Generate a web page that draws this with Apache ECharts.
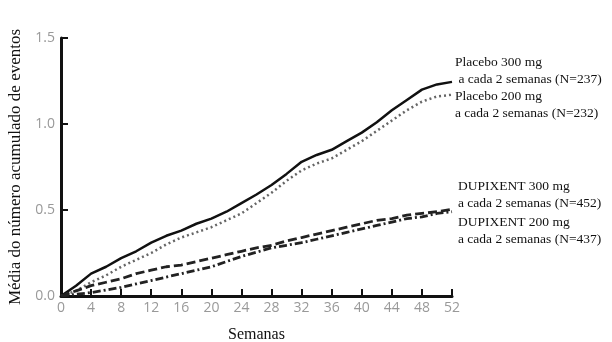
<!DOCTYPE html>
<html><head><meta charset="utf-8">
<script src="https://cdn.jsdelivr.net/npm/echarts@6/dist/echarts.min.js"></script>
<style>html,body{margin:0;padding:0;background:#fff}#c{width:612px;height:342px}</style>
</head><body><div id="c"></div>
<script>
const weeks = [0,2,4,6,8,10,12,14,16,18,20,22,24,26,28,30,32,34,36,38,40,42,44,46,48,50,52];
const placebo300 = [0,0.06,0.13,0.17,0.22,0.26,0.31,0.35,0.38,0.42,0.45,0.49,0.54,0.59,0.645,0.71,0.78,0.82,0.85,0.90,0.95,1.01,1.08,1.14,1.20,1.23,1.245];
const placebo200 = [0,0.03,0.08,0.12,0.17,0.21,0.25,0.30,0.34,0.37,0.40,0.44,0.48,0.54,0.60,0.67,0.73,0.77,0.80,0.85,0.90,0.96,1.02,1.08,1.13,1.16,1.17];
const dupi300 = [0,0.03,0.06,0.08,0.10,0.13,0.15,0.17,0.18,0.20,0.22,0.24,0.26,0.28,0.295,0.32,0.34,0.36,0.38,0.40,0.42,0.44,0.45,0.47,0.48,0.49,0.505];
const dupi200 = [0,0.01,0.02,0.035,0.05,0.07,0.09,0.11,0.13,0.15,0.17,0.20,0.23,0.255,0.28,0.295,0.31,0.33,0.35,0.37,0.39,0.41,0.43,0.45,0.46,0.48,0.49];
const yTicks = [0, 0.5, 1.0, 1.5];
const xTicks = [0,4,8,12,16,20,24,28,32,36,40,44,48,52];
const labelLines = [
  ["Placebo 300 mg", " a cada 2 semanas (N=237)"],
  ["Placebo 200 mg", "a cada 2 semanas (N=232)"],
  ["DUPIXENT 300 mg", "a cada 2 semanas (N=452)"],
  ["DUPIXENT 200 mg", "a cada 2 semanas (N=437)"]
];
const pair = a => weeks.map((w,i)=>[w,a[i]]);
const serif = '"Liberation Serif","DejaVu Serif",serif';
const chart = echarts.init(document.getElementById('c'));
const lineBase = {type:'line', showSymbol:false, smooth:false, silent:true};
const labelPos = [[455,54],[455,88],[458,178],[458,214]];
chart.setOption({
  animation:false,
  backgroundColor:'#fff',
  grid:{left:61,right:160,top:38,bottom:46,containLabel:false,outerBoundsMode:'none'},
  xAxis:{type:'value',min:0,max:52,interval:4,
    axisLine:{show:true,lineStyle:{color:'#111',width:3}},
    axisTick:{show:true,inside:true,length:7,lineStyle:{color:'#111',width:2}},
    axisLabel:{color:'#999',fontSize:14,margin:5,fontFamily:'"Open Sans",sans-serif'},
    splitLine:{show:false},
    name:'Semanas',nameLocation:'middle',nameGap:31,
    nameTextStyle:{fontFamily:serif,fontSize:16,color:'#111'}},
  yAxis:{type:'value',min:0,max:1.5,interval:0.5,
    axisLine:{show:true,lineStyle:{color:'#111',width:3}},
    axisTick:{show:true,inside:true,length:7,lineStyle:{color:'#111',width:2}},
    axisLabel:{color:'#999',fontSize:14,margin:6,fontFamily:'"Open Sans",sans-serif',formatter:v=>v.toFixed(1)},
    splitLine:{show:false},
    name:'Média do número acumulado de eventos',nameLocation:'middle',nameGap:28,
    nameTextStyle:{fontFamily:serif,fontSize:17,color:'#111'}},
  series:[
    Object.assign({},lineBase,{data:pair(placebo300),lineStyle:{color:'#111',width:2.5,type:'solid'}}),
    Object.assign({},lineBase,{data:pair(placebo200),lineStyle:{color:'#666',width:2.5,type:[2,3]}}),
    Object.assign({},lineBase,{data:pair(dupi300),lineStyle:{color:'#222',width:2.8,type:[9,4]}}),
    Object.assign({},lineBase,{data:pair(dupi200),lineStyle:{color:'#222',width:2.8,type:[8,3,2,3]}})
  ],
  graphic: labelLines.map((l,i)=>({type:'text',left:labelPos[i][0],top:labelPos[i][1],
    style:{text:l.join('\n'),font:'13.5px '+serif,fill:'#111',lineHeight:17}}))
});
</script></body></html>
